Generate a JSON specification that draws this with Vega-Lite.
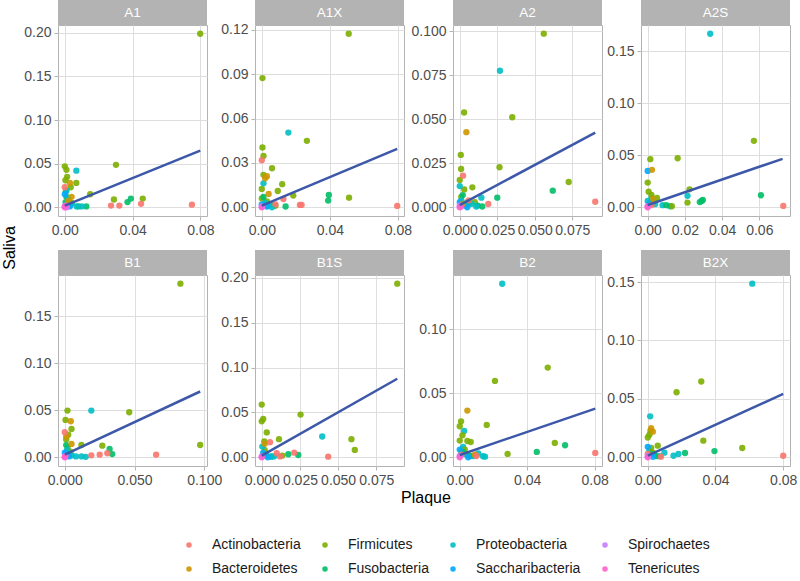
{
"$schema":"https://vega.github.io/schema/vega-lite/v6.json",
"padding":{"left":0,"top":0,"right":0,"bottom":0},
"background":"white",
"config":{"font":"Liberation Sans","view":{"stroke":"#B3B3B3"},
"axis":{"labelColor":"#4D4D4D","labelFontSize":14,"labelFont":"Liberation Sans","tickColor":"#B3B3B3","tickSize":4,"labelPadding":3,"domain":false,"gridColor":"#DEDEDE","labelOverlap":false,"labelFlush":false},
"legend":{"labelFontSize":14,"labelColor":"#1A1A1A","symbolType":"circle","symbolSize":30,"columnPadding":17,"rowPadding":10,"labelOffset":16,"padding":0,"symbolStrokeWidth":0}},
"datasets":{
"pts":[
{"panel":"A1","phylum":"Firmicutes","plaque":0.0799,"saliva":0.199},{"panel":"A1","phylum":"Firmicutes","plaque":0.0302,"saliva":0.0487},{"panel":"A1","phylum":"Firmicutes","plaque":0,"saliva":0.047},{"panel":"A1","phylum":"Firmicutes","plaque":0.001,"saliva":0.043},{"panel":"A1","phylum":"Firmicutes","plaque":0.0014,"saliva":0.035},{"panel":"A1","phylum":"Firmicutes","plaque":0.0004,"saliva":0.031},{"panel":"A1","phylum":"Firmicutes","plaque":0.0068,"saliva":0.028},{"panel":"A1","phylum":"Firmicutes","plaque":0.0035,"saliva":0.023},{"panel":"A1","phylum":"Firmicutes","plaque":0.0006,"saliva":0.018},{"panel":"A1","phylum":"Firmicutes","plaque":0.029,"saliva":0.009},{"panel":"A1","phylum":"Firmicutes","plaque":0.046,"saliva":0.01},{"panel":"A1","phylum":"Firmicutes","plaque":0.015,"saliva":0.015},{"panel":"A1","phylum":"Firmicutes","plaque":0.002,"saliva":0.008},{"panel":"A1","phylum":"Firmicutes","plaque":0.004,"saliva":0.005},
{"panel":"A1","phylum":"Fusobacteria","plaque":0.0127,"saliva":0.001},{"panel":"A1","phylum":"Fusobacteria","plaque":0.037,"saliva":0.006},{"panel":"A1","phylum":"Fusobacteria","plaque":0.039,"saliva":0.01},{"panel":"A1","phylum":"Fusobacteria","plaque":0.001,"saliva":0.012},{"panel":"A1","phylum":"Fusobacteria","plaque":0.003,"saliva":0.003},{"panel":"A1","phylum":"Fusobacteria","plaque":0.008,"saliva":0.001},{"panel":"A1","phylum":"Fusobacteria","plaque":0.0005,"saliva":0.006},
{"panel":"A1","phylum":"Proteobacteria","plaque":0.0068,"saliva":0.042},{"panel":"A1","phylum":"Proteobacteria","plaque":0.001,"saliva":0.019},{"panel":"A1","phylum":"Proteobacteria","plaque":0.002,"saliva":0.01},{"panel":"A1","phylum":"Proteobacteria","plaque":0.004,"saliva":0.004},{"panel":"A1","phylum":"Proteobacteria","plaque":0.007,"saliva":0.001},{"panel":"A1","phylum":"Proteobacteria","plaque":0.01,"saliva":0.001},{"panel":"A1","phylum":"Proteobacteria","plaque":0.0005,"saliva":0.002},
{"panel":"A1","phylum":"Saccharibacteria","plaque":0,"saliva":0.015},{"panel":"A1","phylum":"Saccharibacteria","plaque":0.003,"saliva":0.001},
{"panel":"A1","phylum":"Bacteroidetes","plaque":0.003,"saliva":0.028},{"panel":"A1","phylum":"Bacteroidetes","plaque":0.004,"saliva":0.012},{"panel":"A1","phylum":"Bacteroidetes","plaque":0.002,"saliva":0.007},
{"panel":"A1","phylum":"Actinobacteria","plaque":0,"saliva":0.023},{"panel":"A1","phylum":"Actinobacteria","plaque":0.0273,"saliva":0.002},{"panel":"A1","phylum":"Actinobacteria","plaque":0.0322,"saliva":0.002},{"panel":"A1","phylum":"Actinobacteria","plaque":0.045,"saliva":0.004},{"panel":"A1","phylum":"Actinobacteria","plaque":0.075,"saliva":0.003},{"panel":"A1","phylum":"Actinobacteria","plaque":0.001,"saliva":0.001},
{"panel":"A1","phylum":"Spirochaetes","plaque":0,"saliva":0.001},{"panel":"A1","phylum":"Spirochaetes","plaque":0.001,"saliva":0},
{"panel":"A1","phylum":"Tenericutes","plaque":0,"saliva":0},{"panel":"A1","phylum":"Tenericutes","plaque":0.0005,"saliva":0.002},

{"panel":"A1X","phylum":"Firmicutes","plaque":0.0511,"saliva":0.1173},{"panel":"A1X","phylum":"Firmicutes","plaque":0.0004,"saliva":0.0873},{"panel":"A1X","phylum":"Firmicutes","plaque":0.0265,"saliva":0.0449},{"panel":"A1X","phylum":"Firmicutes","plaque":0.0004,"saliva":0.0404},{"panel":"A1X","phylum":"Firmicutes","plaque":0.001,"saliva":0.0347},{"panel":"A1X","phylum":"Firmicutes","plaque":0.006,"saliva":0.0264},{"panel":"A1X","phylum":"Firmicutes","plaque":0.001,"saliva":0.0219},{"panel":"A1X","phylum":"Firmicutes","plaque":0,"saliva":0.0124},{"panel":"A1X","phylum":"Firmicutes","plaque":0.0094,"saliva":0.011},{"panel":"A1X","phylum":"Firmicutes","plaque":0.012,"saliva":0.0156},{"panel":"A1X","phylum":"Firmicutes","plaque":0.0185,"saliva":0.0079},{"panel":"A1X","phylum":"Firmicutes","plaque":0.0513,"saliva":0.0065},{"panel":"A1X","phylum":"Firmicutes","plaque":0.003,"saliva":0.004},{"panel":"A1X","phylum":"Firmicutes","plaque":0,"saliva":0.006},{"panel":"A1X","phylum":"Firmicutes","plaque":0.008,"saliva":0.001},
{"panel":"A1X","phylum":"Fusobacteria","plaque":0.0394,"saliva":0.0083},{"panel":"A1X","phylum":"Fusobacteria","plaque":0.039,"saliva":0.0045},{"panel":"A1X","phylum":"Fusobacteria","plaque":0.014,"saliva":0.0005},{"panel":"A1X","phylum":"Fusobacteria","plaque":0.001,"saliva":0.007},{"panel":"A1X","phylum":"Fusobacteria","plaque":0.005,"saliva":0.002},
{"panel":"A1X","phylum":"Proteobacteria","plaque":0.0156,"saliva":0.0505},{"panel":"A1X","phylum":"Proteobacteria","plaque":0.001,"saliva":0.0162},{"panel":"A1X","phylum":"Proteobacteria","plaque":0.004,"saliva":0.001},{"panel":"A1X","phylum":"Proteobacteria","plaque":0.006,"saliva":0},{"panel":"A1X","phylum":"Proteobacteria","plaque":0.002,"saliva":0.003},
{"panel":"A1X","phylum":"Saccharibacteria","plaque":0,"saliva":0.002},{"panel":"A1X","phylum":"Saccharibacteria","plaque":0.003,"saliva":0.0005},
{"panel":"A1X","phylum":"Bacteroidetes","plaque":0.002,"saliva":0.0196},{"panel":"A1X","phylum":"Bacteroidetes","plaque":0.003,"saliva":0.021},{"panel":"A1X","phylum":"Bacteroidetes","plaque":0.004,"saliva":0.009},
{"panel":"A1X","phylum":"Actinobacteria","plaque":0,"saliva":0.0318},{"panel":"A1X","phylum":"Actinobacteria","plaque":0.0127,"saliva":0.0056},{"panel":"A1X","phylum":"Actinobacteria","plaque":0.0224,"saliva":0.0016},{"panel":"A1X","phylum":"Actinobacteria","plaque":0.0234,"saliva":0.0016},{"panel":"A1X","phylum":"Actinobacteria","plaque":0.0796,"saliva":0.0009},{"panel":"A1X","phylum":"Actinobacteria","plaque":0.008,"saliva":0.002},
{"panel":"A1X","phylum":"Spirochaetes","plaque":0,"saliva":0.0005},
{"panel":"A1X","phylum":"Tenericutes","plaque":0,"saliva":0},

{"panel":"A2","phylum":"Firmicutes","plaque":0.056,"saliva":0.0987},{"panel":"A2","phylum":"Firmicutes","plaque":0.0029,"saliva":0.0539},{"panel":"A2","phylum":"Firmicutes","plaque":0.035,"saliva":0.0512},{"panel":"A2","phylum":"Firmicutes","plaque":0.0007,"saliva":0.0298},{"panel":"A2","phylum":"Firmicutes","plaque":0.0009,"saliva":0.0218},{"panel":"A2","phylum":"Firmicutes","plaque":0,"saliva":0.0156},{"panel":"A2","phylum":"Firmicutes","plaque":0.0265,"saliva":0.0228},{"panel":"A2","phylum":"Firmicutes","plaque":0.0726,"saliva":0.0144},{"panel":"A2","phylum":"Firmicutes","plaque":0.0084,"saliva":0.0114},{"panel":"A2","phylum":"Firmicutes","plaque":0.003,"saliva":0.0102},{"panel":"A2","phylum":"Firmicutes","plaque":0.001,"saliva":0.006},{"panel":"A2","phylum":"Firmicutes","plaque":0.005,"saliva":0.003},{"panel":"A2","phylum":"Firmicutes","plaque":0.01,"saliva":0.003},
{"panel":"A2","phylum":"Fusobacteria","plaque":0.062,"saliva":0.0095},{"panel":"A2","phylum":"Fusobacteria","plaque":0.025,"saliva":0.0055},{"panel":"A2","phylum":"Fusobacteria","plaque":0.012,"saliva":0.001},{"panel":"A2","phylum":"Fusobacteria","plaque":0.002,"saliva":0.007},{"panel":"A2","phylum":"Fusobacteria","plaque":0.006,"saliva":0.002},{"panel":"A2","phylum":"Fusobacteria","plaque":0.015,"saliva":0.0005},
{"panel":"A2","phylum":"Proteobacteria","plaque":0.0268,"saliva":0.0776},{"panel":"A2","phylum":"Proteobacteria","plaque":0,"saliva":0.0121},{"panel":"A2","phylum":"Proteobacteria","plaque":0.0144,"saliva":0.0055},{"panel":"A2","phylum":"Proteobacteria","plaque":0.001,"saliva":0.004},{"panel":"A2","phylum":"Proteobacteria","plaque":0.004,"saliva":0.001},{"panel":"A2","phylum":"Proteobacteria","plaque":0.008,"saliva":0.002},{"panel":"A2","phylum":"Proteobacteria","plaque":0.011,"saliva":0.0005},
{"panel":"A2","phylum":"Saccharibacteria","plaque":0,"saliva":0.003},{"panel":"A2","phylum":"Saccharibacteria","plaque":0.005,"saliva":0},
{"panel":"A2","phylum":"Bacteroidetes","plaque":0.0044,"saliva":0.0427},{"panel":"A2","phylum":"Bacteroidetes","plaque":0.002,"saliva":0.002},
{"panel":"A2","phylum":"Actinobacteria","plaque":0.0022,"saliva":0.018},{"panel":"A2","phylum":"Actinobacteria","plaque":0.019,"saliva":0.0019},{"panel":"A2","phylum":"Actinobacteria","plaque":0.0903,"saliva":0.0032},{"panel":"A2","phylum":"Actinobacteria","plaque":0.006,"saliva":0.004},
{"panel":"A2","phylum":"Spirochaetes","plaque":0,"saliva":0.001},
{"panel":"A2","phylum":"Tenericutes","plaque":0,"saliva":0},{"panel":"A2","phylum":"Tenericutes","plaque":0.001,"saliva":0.0005},

{"panel":"A2S","phylum":"Proteobacteria","plaque":0.0336,"saliva":0.167},{"panel":"A2S","phylum":"Proteobacteria","plaque":0.0214,"saliva":0.011},{"panel":"A2S","phylum":"Proteobacteria","plaque":0,"saliva":0.006},{"panel":"A2S","phylum":"Proteobacteria","plaque":0.004,"saliva":0.003},{"panel":"A2S","phylum":"Proteobacteria","plaque":0.008,"saliva":0.002},{"panel":"A2S","phylum":"Proteobacteria","plaque":0.012,"saliva":0.001},{"panel":"A2S","phylum":"Proteobacteria","plaque":0.002,"saliva":0.009},
{"panel":"A2S","phylum":"Firmicutes","plaque":0.0571,"saliva":0.0639},{"panel":"A2S","phylum":"Firmicutes","plaque":0.0161,"saliva":0.0472},{"panel":"A2S","phylum":"Firmicutes","plaque":0.0014,"saliva":0.0463},{"panel":"A2S","phylum":"Firmicutes","plaque":0,"saliva":0.0238},{"panel":"A2S","phylum":"Firmicutes","plaque":0.0005,"saliva":0.015},{"panel":"A2S","phylum":"Firmicutes","plaque":0.002,"saliva":0.012},{"panel":"A2S","phylum":"Firmicutes","plaque":0.005,"saliva":0.009},{"panel":"A2S","phylum":"Firmicutes","plaque":0.0225,"saliva":0.0173},{"panel":"A2S","phylum":"Firmicutes","plaque":0.0214,"saliva":0.0045},{"panel":"A2S","phylum":"Firmicutes","plaque":0.001,"saliva":0.003},{"panel":"A2S","phylum":"Firmicutes","plaque":0.013,"saliva":0.001},
{"panel":"A2S","phylum":"Fusobacteria","plaque":0.0609,"saliva":0.0116},{"panel":"A2S","phylum":"Fusobacteria","plaque":0.028,"saliva":0.005},{"panel":"A2S","phylum":"Fusobacteria","plaque":0.029,"saliva":0.006},{"panel":"A2S","phylum":"Fusobacteria","plaque":0.0296,"saliva":0.007},{"panel":"A2S","phylum":"Fusobacteria","plaque":0.003,"saliva":0.005},{"panel":"A2S","phylum":"Fusobacteria","plaque":0.01,"saliva":0.002},
{"panel":"A2S","phylum":"Saccharibacteria","plaque":0,"saliva":0.035},{"panel":"A2S","phylum":"Saccharibacteria","plaque":0.001,"saliva":0.004},
{"panel":"A2S","phylum":"Bacteroidetes","plaque":0.0023,"saliva":0.036},{"panel":"A2S","phylum":"Bacteroidetes","plaque":0.003,"saliva":0.008},
{"panel":"A2S","phylum":"Actinobacteria","plaque":0.0729,"saliva":0.0013},{"panel":"A2S","phylum":"Actinobacteria","plaque":0.002,"saliva":0.002},
{"panel":"A2S","phylum":"Spirochaetes","plaque":0,"saliva":0.001},
{"panel":"A2S","phylum":"Tenericutes","plaque":0,"saliva":0},

{"panel":"B1","phylum":"Firmicutes","plaque":0.0829,"saliva":0.1844},{"panel":"B1","phylum":"Firmicutes","plaque":0.0019,"saliva":0.0496},{"panel":"B1","phylum":"Firmicutes","plaque":0.0462,"saliva":0.0479},{"panel":"B1","phylum":"Firmicutes","plaque":0.0005,"saliva":0.0397},{"panel":"B1","phylum":"Firmicutes","plaque":0.0048,"saliva":0.0301},{"panel":"B1","phylum":"Firmicutes","plaque":0.0024,"saliva":0.0241},{"panel":"B1","phylum":"Firmicutes","plaque":0.001,"saliva":0.019},{"panel":"B1","phylum":"Firmicutes","plaque":0.0119,"saliva":0.0131},{"panel":"B1","phylum":"Firmicutes","plaque":0.0269,"saliva":0.0124},{"panel":"B1","phylum":"Firmicutes","plaque":0.0971,"saliva":0.0131},{"panel":"B1","phylum":"Firmicutes","plaque":0.002,"saliva":0.01},{"panel":"B1","phylum":"Firmicutes","plaque":0.004,"saliva":0.006},
{"panel":"B1","phylum":"Fusobacteria","plaque":0.0321,"saliva":0.0089},{"panel":"B1","phylum":"Fusobacteria","plaque":0.034,"saliva":0.0035},{"panel":"B1","phylum":"Fusobacteria","plaque":0.001,"saliva":0.013},{"panel":"B1","phylum":"Fusobacteria","plaque":0.003,"saliva":0.003},
{"panel":"B1","phylum":"Proteobacteria","plaque":0.019,"saliva":0.0496},{"panel":"B1","phylum":"Proteobacteria","plaque":0.0017,"saliva":0.0078},{"panel":"B1","phylum":"Proteobacteria","plaque":0.005,"saliva":0.002},{"panel":"B1","phylum":"Proteobacteria","plaque":0.008,"saliva":0.001},{"panel":"B1","phylum":"Proteobacteria","plaque":0.012,"saliva":0.001},{"panel":"B1","phylum":"Proteobacteria","plaque":0.015,"saliva":0.0005},{"panel":"B1","phylum":"Proteobacteria","plaque":0.001,"saliva":0.004},
{"panel":"B1","phylum":"Saccharibacteria","plaque":0,"saliva":0.005},{"panel":"B1","phylum":"Saccharibacteria","plaque":0.003,"saliva":0.001},
{"panel":"B1","phylum":"Bacteroidetes","plaque":0.0043,"saliva":0.0383},{"panel":"B1","phylum":"Bacteroidetes","plaque":0.001,"saliva":0.022},{"panel":"B1","phylum":"Bacteroidetes","plaque":0.0048,"saliva":0.0142},
{"panel":"B1","phylum":"Actinobacteria","plaque":0,"saliva":0.0266},{"panel":"B1","phylum":"Actinobacteria","plaque":0.025,"saliva":0.0028},{"panel":"B1","phylum":"Actinobacteria","plaque":0.019,"saliva":0.0021},{"panel":"B1","phylum":"Actinobacteria","plaque":0.0305,"saliva":0.0043},{"panel":"B1","phylum":"Actinobacteria","plaque":0.0655,"saliva":0.0028},
{"panel":"B1","phylum":"Spirochaetes","plaque":0,"saliva":0.001},
{"panel":"B1","phylum":"Tenericutes","plaque":0,"saliva":0},{"panel":"B1","phylum":"Tenericutes","plaque":0.0005,"saliva":0.0015},

{"panel":"B1S","phylum":"Firmicutes","plaque":0.0887,"saliva":0.1936},{"panel":"B1S","phylum":"Firmicutes","plaque":0,"saliva":0.0588},{"panel":"B1S","phylum":"Firmicutes","plaque":0.001,"saliva":0.0427},{"panel":"B1S","phylum":"Firmicutes","plaque":0,"saliva":0.0401},{"panel":"B1S","phylum":"Firmicutes","plaque":0.0254,"saliva":0.0476},{"panel":"B1S","phylum":"Firmicutes","plaque":0.0033,"saliva":0.0277},{"panel":"B1S","phylum":"Firmicutes","plaque":0.0587,"saliva":0.0202},{"panel":"B1S","phylum":"Firmicutes","plaque":0.0609,"saliva":0.0082},{"panel":"B1S","phylum":"Firmicutes","plaque":0.0113,"saliva":0.0202},{"panel":"B1S","phylum":"Firmicutes","plaque":0.0017,"saliva":0.0176},{"panel":"B1S","phylum":"Firmicutes","plaque":0.0135,"saliva":0.0019},{"panel":"B1S","phylum":"Firmicutes","plaque":0.002,"saliva":0.008},{"panel":"B1S","phylum":"Firmicutes","plaque":0.001,"saliva":0.004},
{"panel":"B1S","phylum":"Fusobacteria","plaque":0.0174,"saliva":0.0034},{"panel":"B1S","phylum":"Fusobacteria","plaque":0.0239,"saliva":0.0026},{"panel":"B1S","phylum":"Fusobacteria","plaque":0.002,"saliva":0.002},{"panel":"B1S","phylum":"Fusobacteria","plaque":0.006,"saliva":0.001},
{"panel":"B1S","phylum":"Proteobacteria","plaque":0.0396,"saliva":0.0232},{"panel":"B1S","phylum":"Proteobacteria","plaque":0.0004,"saliva":0.012},{"panel":"B1S","phylum":"Proteobacteria","plaque":0.0065,"saliva":0.0007},{"panel":"B1S","phylum":"Proteobacteria","plaque":0.003,"saliva":0.002},{"panel":"B1S","phylum":"Proteobacteria","plaque":0.008,"saliva":0.001},
{"panel":"B1S","phylum":"Saccharibacteria","plaque":0.001,"saliva":0.005},{"panel":"B1S","phylum":"Saccharibacteria","plaque":0.004,"saliva":0},
{"panel":"B1S","phylum":"Bacteroidetes","plaque":0.002,"saliva":0.015},
{"panel":"B1S","phylum":"Actinobacteria","plaque":0.0054,"saliva":0.0169},{"panel":"B1S","phylum":"Actinobacteria","plaque":0.0213,"saliva":0.0052},{"panel":"B1S","phylum":"Actinobacteria","plaque":0.0435,"saliva":0.0007},{"panel":"B1S","phylum":"Actinobacteria","plaque":0.0098,"saliva":0.0045},{"panel":"B1S","phylum":"Actinobacteria","plaque":0.012,"saliva":0.001},
{"panel":"B1S","phylum":"Spirochaetes","plaque":0,"saliva":0.001},
{"panel":"B1S","phylum":"Tenericutes","plaque":0,"saliva":0},

{"panel":"B2","phylum":"Proteobacteria","plaque":0.0252,"saliva":0.1353},{"panel":"B2","phylum":"Proteobacteria","plaque":0.0026,"saliva":0.0205},{"panel":"B2","phylum":"Proteobacteria","plaque":0.0138,"saliva":0.0008},{"panel":"B2","phylum":"Proteobacteria","plaque":0.001,"saliva":0.005},{"panel":"B2","phylum":"Proteobacteria","plaque":0.004,"saliva":0.002},{"panel":"B2","phylum":"Proteobacteria","plaque":0.008,"saliva":0.001},{"panel":"B2","phylum":"Proteobacteria","plaque":0.011,"saliva":0.003},{"panel":"B2","phylum":"Proteobacteria","plaque":0.015,"saliva":0.0005},{"panel":"B2","phylum":"Proteobacteria","plaque":0.002,"saliva":0.008},
{"panel":"B2","phylum":"Firmicutes","plaque":0.0522,"saliva":0.0699},{"panel":"B2","phylum":"Firmicutes","plaque":0.0209,"saliva":0.0595},{"panel":"B2","phylum":"Firmicutes","plaque":0.0008,"saliva":0.028},{"panel":"B2","phylum":"Firmicutes","plaque":0,"saliva":0.0242},{"panel":"B2","phylum":"Firmicutes","plaque":0.016,"saliva":0.0252},{"panel":"B2","phylum":"Firmicutes","plaque":0.0016,"saliva":0.0171},{"panel":"B2","phylum":"Firmicutes","plaque":0.0045,"saliva":0.0127},{"panel":"B2","phylum":"Firmicutes","plaque":0.0065,"saliva":0.0119},{"panel":"B2","phylum":"Firmicutes","plaque":0,"saliva":0.013},{"panel":"B2","phylum":"Firmicutes","plaque":0.0564,"saliva":0.0112},{"panel":"B2","phylum":"Firmicutes","plaque":0.0284,"saliva":0.0026},{"panel":"B2","phylum":"Firmicutes","plaque":0.003,"saliva":0.006},{"panel":"B2","phylum":"Firmicutes","plaque":0.001,"saliva":0.003},
{"panel":"B2","phylum":"Fusobacteria","plaque":0.0625,"saliva":0.0094},{"panel":"B2","phylum":"Fusobacteria","plaque":0.0457,"saliva":0.0042},{"panel":"B2","phylum":"Fusobacteria","plaque":0.002,"saliva":0.004},{"panel":"B2","phylum":"Fusobacteria","plaque":0.006,"saliva":0.001},
{"panel":"B2","phylum":"Saccharibacteria","plaque":0,"saliva":0.006},{"panel":"B2","phylum":"Saccharibacteria","plaque":0.005,"saliva":0},
{"panel":"B2","phylum":"Bacteroidetes","plaque":0.0045,"saliva":0.0364},{"panel":"B2","phylum":"Bacteroidetes","plaque":0.009,"saliva":0.002},
{"panel":"B2","phylum":"Actinobacteria","plaque":0.0804,"saliva":0.0034},{"panel":"B2","phylum":"Actinobacteria","plaque":0.0099,"saliva":0.001},{"panel":"B2","phylum":"Actinobacteria","plaque":0.001,"saliva":0.002},
{"panel":"B2","phylum":"Spirochaetes","plaque":0,"saliva":0.001},
{"panel":"B2","phylum":"Tenericutes","plaque":0,"saliva":0},

{"panel":"B2X","phylum":"Proteobacteria","plaque":0.0617,"saliva":0.1486},{"panel":"B2X","phylum":"Proteobacteria","plaque":0.0014,"saliva":0.0351},{"panel":"B2X","phylum":"Proteobacteria","plaque":0.0181,"saliva":0.0029},{"panel":"B2X","phylum":"Proteobacteria","plaque":0.0152,"saliva":0.0014},{"panel":"B2X","phylum":"Proteobacteria","plaque":0.0098,"saliva":0.004},{"panel":"B2X","phylum":"Proteobacteria","plaque":0.001,"saliva":0.006},{"panel":"B2X","phylum":"Proteobacteria","plaque":0.004,"saliva":0.002},{"panel":"B2X","phylum":"Proteobacteria","plaque":0.007,"saliva":0.001},
{"panel":"B2X","phylum":"Firmicutes","plaque":0.0316,"saliva":0.0649},{"panel":"B2X","phylum":"Firmicutes","plaque":0.017,"saliva":0.0557},{"panel":"B2X","phylum":"Firmicutes","plaque":0.0016,"saliva":0.0229},{"panel":"B2X","phylum":"Firmicutes","plaque":0.001,"saliva":0.0194},{"panel":"B2X","phylum":"Firmicutes","plaque":0,"saliva":0.017},{"panel":"B2X","phylum":"Firmicutes","plaque":0.0328,"saliva":0.0143},{"panel":"B2X","phylum":"Firmicutes","plaque":0.0558,"saliva":0.008},{"panel":"B2X","phylum":"Firmicutes","plaque":0.0059,"saliva":0.01},{"panel":"B2X","phylum":"Firmicutes","plaque":0.002,"saliva":0.008},{"panel":"B2X","phylum":"Firmicutes","plaque":0.003,"saliva":0.004},
{"panel":"B2X","phylum":"Fusobacteria","plaque":0.0394,"saliva":0.0054},{"panel":"B2X","phylum":"Fusobacteria","plaque":0.022,"saliva":0.0037},{"panel":"B2X","phylum":"Fusobacteria","plaque":0.002,"saliva":0.003},{"panel":"B2X","phylum":"Fusobacteria","plaque":0.005,"saliva":0.001},
{"panel":"B2X","phylum":"Saccharibacteria","plaque":0,"saliva":0.009},{"panel":"B2X","phylum":"Saccharibacteria","plaque":0.003,"saliva":0.0005},
{"panel":"B2X","phylum":"Bacteroidetes","plaque":0.002,"saliva":0.0249},{"panel":"B2X","phylum":"Bacteroidetes","plaque":0.003,"saliva":0.022},
{"panel":"B2X","phylum":"Actinobacteria","plaque":0.08,"saliva":0.0014},{"panel":"B2X","phylum":"Actinobacteria","plaque":0.0078,"saliva":0.0006},{"panel":"B2X","phylum":"Actinobacteria","plaque":0,"saliva":0.003},
{"panel":"B2X","phylum":"Spirochaetes","plaque":0,"saliva":0.001},
{"panel":"B2X","phylum":"Tenericutes","plaque":0,"saliva":0}
],
"fit":[
{"panel":"A1","plaque":0,"saliva":0.002},{"panel":"A1","plaque":0.0799,"saliva":0.065},
{"panel":"A1X","plaque":0,"saliva":0.0011},{"panel":"A1X","plaque":0.0796,"saliva":0.0395},
{"panel":"A2","plaque":0,"saliva":0.0013},{"panel":"A2","plaque":0.0903,"saliva":0.0425},
{"panel":"A2S","plaque":0,"saliva":0.0022},{"panel":"A2S","plaque":0.0725,"saliva":0.0466},
{"panel":"B1","plaque":0,"saliva":0.0028},{"panel":"B1","plaque":0.0971,"saliva":0.0699},
{"panel":"B1S","plaque":0,"saliva":0.0019},{"panel":"B1S","plaque":0.0887,"saliva":0.0876},
{"panel":"B2","plaque":0,"saliva":0.0018},{"panel":"B2","plaque":0.0804,"saliva":0.0379},
{"panel":"B2X","plaque":0,"saliva":0.0014},{"panel":"B2X","plaque":0.08,"saliva":0.0543}
]},
"spacing":3,
"hconcat":[
{"width":20,"height":496,"view":{"stroke":null},"data":{"values":[{"t":"Saliva"}]},"mark":{"type":"text","angle":270,"fontSize":16,"color":"#000000"},"encoding":{"text":{"field":"t","type":"nominal"}}},
{"spacing":1,"vconcat":[
{"columns":4,"spacing":{"row":12,"column":-3},"concat":[

{"spacing":0,"bounds":"flush","vconcat":[
{"width":149,"height":25,"view":{"fill":"#B3B3B3","stroke":null},"data":{"values":[{"panel":"A1"}]},"mark":{"type":"text","color":"#FFFFFF","fontSize":13.5},"encoding":{"text":{"field":"panel","type":"nominal"}}},
{"width":149,"height":191,"layer":[
{"data":{"name":"pts"},"transform":[{"filter":{"field":"panel","equal":"A1"}}],"mark":{"type":"circle","size":40,"opacity":0.9},"encoding":{
"x":{"field":"plaque","type":"quantitative","title":null,"scale":{"domain":[-0.004,0.0839],"nice":false,"zero":false},"axis":{"values":[0,0.01,0.02,0.03,0.04,0.05,0.06,0.07,0.08],"format":".2f","labelExpr":"abs(datum.value/0.02-round(datum.value/0.02))<0.001?datum.label:''","gridWidth":{"condition":{"test":"abs(datum.value/0.02-round(datum.value/0.02))<0.001","value":1},"value":0.5},"tickOpacity":{"condition":{"test":"abs(datum.value/0.02-round(datum.value/0.02))<0.001","value":1},"value":0}}},
"y":{"field":"saliva","type":"quantitative","title":null,"scale":{"domain":[-0.00995,0.209],"nice":false,"zero":false},"axis":{"values":[0,0.025,0.05,0.075,0.1,0.125,0.15,0.175,0.2],"format":".2f","labelExpr":"abs(datum.value/0.05-round(datum.value/0.05))<0.001?datum.label:''","gridWidth":{"condition":{"test":"abs(datum.value/0.05-round(datum.value/0.05))<0.001","value":1},"value":0.5},"tickOpacity":{"condition":{"test":"abs(datum.value/0.05-round(datum.value/0.05))<0.001","value":1},"value":0}}},
"color":{"field":"phylum","type":"nominal","title":null,"scale":{"domain":["Actinobacteria","Bacteroidetes","Firmicutes","Fusobacteria","Proteobacteria","Saccharibacteria","Spirochaetes","Tenericutes"],"range":["#F8766D","#CD9600","#7CAE00","#00BE67","#00BFC4","#00A9FF","#C77CFF","#FF61CC"]},"legend":{"orient":"none","legendX":182,"legendY":538,"columns":4}}}},
{"data":{"name":"fit"},"transform":[{"filter":{"field":"panel","equal":"A1"}}],"mark":{"type":"line","color":"#3D58A8","strokeWidth":2.5},"encoding":{"x":{"field":"plaque","type":"quantitative","title":null},"y":{"field":"saliva","type":"quantitative","title":null}}}
]}]},

{"spacing":0,"bounds":"flush","vconcat":[
{"width":149,"height":25,"view":{"fill":"#B3B3B3","stroke":null},"data":{"values":[{"panel":"A1X"}]},"mark":{"type":"text","color":"#FFFFFF","fontSize":13.5},"encoding":{"text":{"field":"panel","type":"nominal"}}},
{"width":149,"height":191,"layer":[
{"data":{"name":"pts"},"transform":[{"filter":{"field":"panel","equal":"A1X"}}],"mark":{"type":"circle","size":40,"opacity":0.9},"encoding":{
"x":{"field":"plaque","type":"quantitative","title":null,"scale":{"domain":[-0.004,0.0836],"nice":false,"zero":false},"axis":{"values":[0,0.01,0.02,0.03,0.04,0.05,0.06,0.07,0.08],"format":".2f","labelExpr":"abs(datum.value/0.02-round(datum.value/0.02))<0.001?datum.label:''","gridWidth":{"condition":{"test":"abs(datum.value/0.02-round(datum.value/0.02))<0.001","value":1},"value":0.5},"tickOpacity":{"condition":{"test":"abs(datum.value/0.02-round(datum.value/0.02))<0.001","value":1},"value":0}}},
"y":{"field":"saliva","type":"quantitative","title":null,"scale":{"domain":[-0.0059,0.1232],"nice":false,"zero":false},"axis":{"values":[0,0.015,0.03,0.045,0.06,0.075,0.09,0.105,0.12],"format":".2f","labelExpr":"abs(datum.value/0.03-round(datum.value/0.03))<0.001?datum.label:''","gridWidth":{"condition":{"test":"abs(datum.value/0.03-round(datum.value/0.03))<0.001","value":1},"value":0.5},"tickOpacity":{"condition":{"test":"abs(datum.value/0.03-round(datum.value/0.03))<0.001","value":1},"value":0}}},
"color":{"field":"phylum","type":"nominal","title":null,"scale":{"domain":["Actinobacteria","Bacteroidetes","Firmicutes","Fusobacteria","Proteobacteria","Saccharibacteria","Spirochaetes","Tenericutes"],"range":["#F8766D","#CD9600","#7CAE00","#00BE67","#00BFC4","#00A9FF","#C77CFF","#FF61CC"]},"legend":{"orient":"none","legendX":182,"legendY":538,"columns":4}}}},
{"data":{"name":"fit"},"transform":[{"filter":{"field":"panel","equal":"A1X"}}],"mark":{"type":"line","color":"#3D58A8","strokeWidth":2.5},"encoding":{"x":{"field":"plaque","type":"quantitative","title":null},"y":{"field":"saliva","type":"quantitative","title":null}}}
]}]},

{"spacing":0,"bounds":"flush","vconcat":[
{"width":149,"height":25,"view":{"fill":"#B3B3B3","stroke":null},"data":{"values":[{"panel":"A2"}]},"mark":{"type":"text","color":"#FFFFFF","fontSize":13.5},"encoding":{"text":{"field":"panel","type":"nominal"}}},
{"width":149,"height":191,"layer":[
{"data":{"name":"pts"},"transform":[{"filter":{"field":"panel","equal":"A2"}}],"mark":{"type":"circle","size":40,"opacity":0.9},"encoding":{
"x":{"field":"plaque","type":"quantitative","title":null,"scale":{"domain":[-0.0045,0.0948],"nice":false,"zero":false},"axis":{"values":[0,0.0125,0.025,0.0375,0.05,0.0625,0.075,0.0875],"format":".3f","labelExpr":"abs(datum.value/0.025-round(datum.value/0.025))<0.001?datum.label:''","gridWidth":{"condition":{"test":"abs(datum.value/0.025-round(datum.value/0.025))<0.001","value":1},"value":0.5},"tickOpacity":{"condition":{"test":"abs(datum.value/0.025-round(datum.value/0.025))<0.001","value":1},"value":0}}},
"y":{"field":"saliva","type":"quantitative","title":null,"scale":{"domain":[-0.0049,0.1036],"nice":false,"zero":false},"axis":{"values":[0,0.0125,0.025,0.0375,0.05,0.0625,0.075,0.0875,0.1],"format":".3f","labelExpr":"abs(datum.value/0.025-round(datum.value/0.025))<0.001?datum.label:''","gridWidth":{"condition":{"test":"abs(datum.value/0.025-round(datum.value/0.025))<0.001","value":1},"value":0.5},"tickOpacity":{"condition":{"test":"abs(datum.value/0.025-round(datum.value/0.025))<0.001","value":1},"value":0}}},
"color":{"field":"phylum","type":"nominal","title":null,"scale":{"domain":["Actinobacteria","Bacteroidetes","Firmicutes","Fusobacteria","Proteobacteria","Saccharibacteria","Spirochaetes","Tenericutes"],"range":["#F8766D","#CD9600","#7CAE00","#00BE67","#00BFC4","#00A9FF","#C77CFF","#FF61CC"]},"legend":{"orient":"none","legendX":182,"legendY":538,"columns":4}}}},
{"data":{"name":"fit"},"transform":[{"filter":{"field":"panel","equal":"A2"}}],"mark":{"type":"line","color":"#3D58A8","strokeWidth":2.5},"encoding":{"x":{"field":"plaque","type":"quantitative","title":null},"y":{"field":"saliva","type":"quantitative","title":null}}}
]}]},

{"spacing":0,"bounds":"flush","vconcat":[
{"width":149,"height":25,"view":{"fill":"#B3B3B3","stroke":null},"data":{"values":[{"panel":"A2S"}]},"mark":{"type":"text","color":"#FFFFFF","fontSize":13.5},"encoding":{"text":{"field":"panel","type":"nominal"}}},
{"width":149,"height":191,"layer":[
{"data":{"name":"pts"},"transform":[{"filter":{"field":"panel","equal":"A2S"}}],"mark":{"type":"circle","size":40,"opacity":0.9},"encoding":{
"x":{"field":"plaque","type":"quantitative","title":null,"scale":{"domain":[-0.0036,0.0765],"nice":false,"zero":false},"axis":{"values":[0,0.01,0.02,0.03,0.04,0.05,0.06,0.07],"format":".2f","labelExpr":"abs(datum.value/0.02-round(datum.value/0.02))<0.001?datum.label:''","gridWidth":{"condition":{"test":"abs(datum.value/0.02-round(datum.value/0.02))<0.001","value":1},"value":0.5},"tickOpacity":{"condition":{"test":"abs(datum.value/0.02-round(datum.value/0.02))<0.001","value":1},"value":0}}},
"y":{"field":"saliva","type":"quantitative","title":null,"scale":{"domain":[-0.0084,0.1754],"nice":false,"zero":false},"axis":{"values":[0,0.025,0.05,0.075,0.1,0.125,0.15,0.175],"format":".2f","labelExpr":"abs(datum.value/0.05-round(datum.value/0.05))<0.001?datum.label:''","gridWidth":{"condition":{"test":"abs(datum.value/0.05-round(datum.value/0.05))<0.001","value":1},"value":0.5},"tickOpacity":{"condition":{"test":"abs(datum.value/0.05-round(datum.value/0.05))<0.001","value":1},"value":0}}},
"color":{"field":"phylum","type":"nominal","title":null,"scale":{"domain":["Actinobacteria","Bacteroidetes","Firmicutes","Fusobacteria","Proteobacteria","Saccharibacteria","Spirochaetes","Tenericutes"],"range":["#F8766D","#CD9600","#7CAE00","#00BE67","#00BFC4","#00A9FF","#C77CFF","#FF61CC"]},"legend":{"orient":"none","legendX":182,"legendY":538,"columns":4}}}},
{"data":{"name":"fit"},"transform":[{"filter":{"field":"panel","equal":"A2S"}}],"mark":{"type":"line","color":"#3D58A8","strokeWidth":2.5},"encoding":{"x":{"field":"plaque","type":"quantitative","title":null},"y":{"field":"saliva","type":"quantitative","title":null}}}
]}]},

{"spacing":0,"bounds":"flush","vconcat":[
{"width":149,"height":25,"view":{"fill":"#B3B3B3","stroke":null},"data":{"values":[{"panel":"B1"}]},"mark":{"type":"text","color":"#FFFFFF","fontSize":13.5},"encoding":{"text":{"field":"panel","type":"nominal"}}},
{"width":149,"height":191,"layer":[
{"data":{"name":"pts"},"transform":[{"filter":{"field":"panel","equal":"B1"}}],"mark":{"type":"circle","size":40,"opacity":0.9},"encoding":{
"x":{"field":"plaque","type":"quantitative","title":null,"scale":{"domain":[-0.0049,0.102],"nice":false,"zero":false},"axis":{"values":[0,0.0125,0.025,0.0375,0.05,0.0625,0.075,0.0875,0.1],"format":".3f","labelExpr":"abs(datum.value/0.025-round(datum.value/0.025))<0.001?datum.label:''","gridWidth":{"condition":{"test":"abs(datum.value/0.025-round(datum.value/0.025))<0.001","value":1},"value":0.5},"tickOpacity":{"condition":{"test":"abs(datum.value/0.025-round(datum.value/0.025))<0.001","value":1},"value":0}}},
"y":{"field":"saliva","type":"quantitative","title":null,"scale":{"domain":[-0.0092,0.1936],"nice":false,"zero":false},"axis":{"values":[0,0.025,0.05,0.075,0.1,0.125,0.15,0.175],"format":".2f","labelExpr":"abs(datum.value/0.05-round(datum.value/0.05))<0.001?datum.label:''","gridWidth":{"condition":{"test":"abs(datum.value/0.05-round(datum.value/0.05))<0.001","value":1},"value":0.5},"tickOpacity":{"condition":{"test":"abs(datum.value/0.05-round(datum.value/0.05))<0.001","value":1},"value":0}}},
"color":{"field":"phylum","type":"nominal","title":null,"scale":{"domain":["Actinobacteria","Bacteroidetes","Firmicutes","Fusobacteria","Proteobacteria","Saccharibacteria","Spirochaetes","Tenericutes"],"range":["#F8766D","#CD9600","#7CAE00","#00BE67","#00BFC4","#00A9FF","#C77CFF","#FF61CC"]},"legend":{"orient":"none","legendX":182,"legendY":538,"columns":4}}}},
{"data":{"name":"fit"},"transform":[{"filter":{"field":"panel","equal":"B1"}}],"mark":{"type":"line","color":"#3D58A8","strokeWidth":2.5},"encoding":{"x":{"field":"plaque","type":"quantitative","title":null},"y":{"field":"saliva","type":"quantitative","title":null}}}
]}]},

{"spacing":0,"bounds":"flush","vconcat":[
{"width":149,"height":25,"view":{"fill":"#B3B3B3","stroke":null},"data":{"values":[{"panel":"B1S"}]},"mark":{"type":"text","color":"#FFFFFF","fontSize":13.5},"encoding":{"text":{"field":"panel","type":"nominal"}}},
{"width":149,"height":191,"layer":[
{"data":{"name":"pts"},"transform":[{"filter":{"field":"panel","equal":"B1S"}}],"mark":{"type":"circle","size":40,"opacity":0.9},"encoding":{
"x":{"field":"plaque","type":"quantitative","title":null,"scale":{"domain":[-0.0044,0.0931],"nice":false,"zero":false},"axis":{"values":[0,0.0125,0.025,0.0375,0.05,0.0625,0.075,0.0875],"format":".3f","labelExpr":"abs(datum.value/0.025-round(datum.value/0.025))<0.001?datum.label:''","gridWidth":{"condition":{"test":"abs(datum.value/0.025-round(datum.value/0.025))<0.001","value":1},"value":0.5},"tickOpacity":{"condition":{"test":"abs(datum.value/0.025-round(datum.value/0.025))<0.001","value":1},"value":0}}},
"y":{"field":"saliva","type":"quantitative","title":null,"scale":{"domain":[-0.0097,0.2033],"nice":false,"zero":false},"axis":{"values":[0,0.025,0.05,0.075,0.1,0.125,0.15,0.175,0.2],"format":".2f","labelExpr":"abs(datum.value/0.05-round(datum.value/0.05))<0.001?datum.label:''","gridWidth":{"condition":{"test":"abs(datum.value/0.05-round(datum.value/0.05))<0.001","value":1},"value":0.5},"tickOpacity":{"condition":{"test":"abs(datum.value/0.05-round(datum.value/0.05))<0.001","value":1},"value":0}}},
"color":{"field":"phylum","type":"nominal","title":null,"scale":{"domain":["Actinobacteria","Bacteroidetes","Firmicutes","Fusobacteria","Proteobacteria","Saccharibacteria","Spirochaetes","Tenericutes"],"range":["#F8766D","#CD9600","#7CAE00","#00BE67","#00BFC4","#00A9FF","#C77CFF","#FF61CC"]},"legend":{"orient":"none","legendX":182,"legendY":538,"columns":4}}}},
{"data":{"name":"fit"},"transform":[{"filter":{"field":"panel","equal":"B1S"}}],"mark":{"type":"line","color":"#3D58A8","strokeWidth":2.5},"encoding":{"x":{"field":"plaque","type":"quantitative","title":null},"y":{"field":"saliva","type":"quantitative","title":null}}}
]}]},

{"spacing":0,"bounds":"flush","vconcat":[
{"width":149,"height":25,"view":{"fill":"#B3B3B3","stroke":null},"data":{"values":[{"panel":"B2"}]},"mark":{"type":"text","color":"#FFFFFF","fontSize":13.5},"encoding":{"text":{"field":"panel","type":"nominal"}}},
{"width":149,"height":191,"layer":[
{"data":{"name":"pts"},"transform":[{"filter":{"field":"panel","equal":"B2"}}],"mark":{"type":"circle","size":40,"opacity":0.9},"encoding":{
"x":{"field":"plaque","type":"quantitative","title":null,"scale":{"domain":[-0.004,0.0844],"nice":false,"zero":false},"axis":{"values":[0,0.01,0.02,0.03,0.04,0.05,0.06,0.07,0.08],"format":".2f","labelExpr":"abs(datum.value/0.02-round(datum.value/0.02))<0.001?datum.label:''","gridWidth":{"condition":{"test":"abs(datum.value/0.02-round(datum.value/0.02))<0.001","value":1},"value":0.5},"tickOpacity":{"condition":{"test":"abs(datum.value/0.02-round(datum.value/0.02))<0.001","value":1},"value":0}}},
"y":{"field":"saliva","type":"quantitative","title":null,"scale":{"domain":[-0.0068,0.1421],"nice":false,"zero":false},"axis":{"values":[0,0.025,0.05,0.075,0.1,0.125],"format":".2f","labelExpr":"abs(datum.value/0.05-round(datum.value/0.05))<0.001?datum.label:''","gridWidth":{"condition":{"test":"abs(datum.value/0.05-round(datum.value/0.05))<0.001","value":1},"value":0.5},"tickOpacity":{"condition":{"test":"abs(datum.value/0.05-round(datum.value/0.05))<0.001","value":1},"value":0}}},
"color":{"field":"phylum","type":"nominal","title":null,"scale":{"domain":["Actinobacteria","Bacteroidetes","Firmicutes","Fusobacteria","Proteobacteria","Saccharibacteria","Spirochaetes","Tenericutes"],"range":["#F8766D","#CD9600","#7CAE00","#00BE67","#00BFC4","#00A9FF","#C77CFF","#FF61CC"]},"legend":{"orient":"none","legendX":182,"legendY":538,"columns":4}}}},
{"data":{"name":"fit"},"transform":[{"filter":{"field":"panel","equal":"B2"}}],"mark":{"type":"line","color":"#3D58A8","strokeWidth":2.5},"encoding":{"x":{"field":"plaque","type":"quantitative","title":null},"y":{"field":"saliva","type":"quantitative","title":null}}}
]}]},

{"spacing":0,"bounds":"flush","vconcat":[
{"width":149,"height":25,"view":{"fill":"#B3B3B3","stroke":null},"data":{"values":[{"panel":"B2X"}]},"mark":{"type":"text","color":"#FFFFFF","fontSize":13.5},"encoding":{"text":{"field":"panel","type":"nominal"}}},
{"width":149,"height":191,"layer":[
{"data":{"name":"pts"},"transform":[{"filter":{"field":"panel","equal":"B2X"}}],"mark":{"type":"circle","size":40,"opacity":0.9},"encoding":{
"x":{"field":"plaque","type":"quantitative","title":null,"scale":{"domain":[-0.004,0.084],"nice":false,"zero":false},"axis":{"values":[0,0.01,0.02,0.03,0.04,0.05,0.06,0.07,0.08],"format":".2f","labelExpr":"abs(datum.value/0.02-round(datum.value/0.02))<0.001?datum.label:''","gridWidth":{"condition":{"test":"abs(datum.value/0.02-round(datum.value/0.02))<0.001","value":1},"value":0.5},"tickOpacity":{"condition":{"test":"abs(datum.value/0.02-round(datum.value/0.02))<0.001","value":1},"value":0}}},
"y":{"field":"saliva","type":"quantitative","title":null,"scale":{"domain":[-0.0074,0.156],"nice":false,"zero":false},"axis":{"values":[0,0.025,0.05,0.075,0.1,0.125,0.15],"format":".2f","labelExpr":"abs(datum.value/0.05-round(datum.value/0.05))<0.001?datum.label:''","gridWidth":{"condition":{"test":"abs(datum.value/0.05-round(datum.value/0.05))<0.001","value":1},"value":0.5},"tickOpacity":{"condition":{"test":"abs(datum.value/0.05-round(datum.value/0.05))<0.001","value":1},"value":0}}},
"color":{"field":"phylum","type":"nominal","title":null,"scale":{"domain":["Actinobacteria","Bacteroidetes","Firmicutes","Fusobacteria","Proteobacteria","Saccharibacteria","Spirochaetes","Tenericutes"],"range":["#F8766D","#CD9600","#7CAE00","#00BE67","#00BFC4","#00A9FF","#C77CFF","#FF61CC"]},"legend":{"orient":"none","legendX":182,"legendY":538,"columns":4}}}},
{"data":{"name":"fit"},"transform":[{"filter":{"field":"panel","equal":"B2X"}}],"mark":{"type":"line","color":"#3D58A8","strokeWidth":2.5},"encoding":{"x":{"field":"plaque","type":"quantitative","title":null},"y":{"field":"saliva","type":"quantitative","title":null}}}
]}]}

]},
{"width":736,"height":18,"view":{"stroke":null},"data":{"values":[{"t":"Plaque"}]},"mark":{"type":"text","fontSize":16,"color":"#000000"},"encoding":{"text":{"field":"t","type":"nominal"}}}
]}
]
}
